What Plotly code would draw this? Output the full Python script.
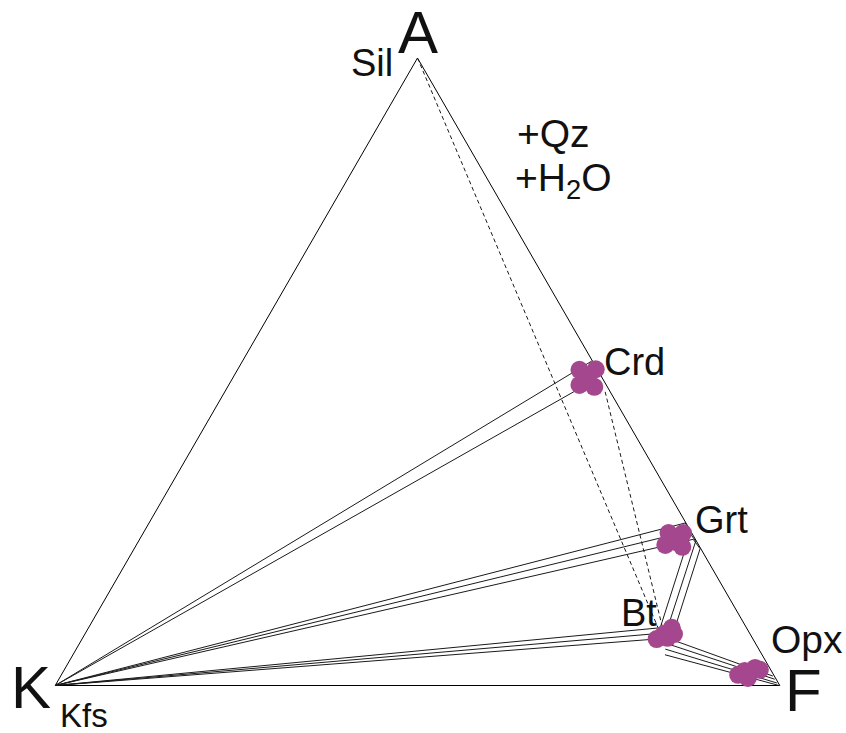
import plotly.graph_objects as go

# Compositions in % (A, K, F)
crd_A = [50.3, 50.4, 47.9, 47.6, 49.0]
crd_K = [2.5, 0.2, 3.7, 1.8, 2.0]
crd_F = [47.2, 49.4, 48.4, 50.6, 49.0]

grt_A = [24.3, 24.3, 22.4, 22.1, 22.9]
grt_K = [3.2, 1.2, 4.6, 2.4, 3.0]
grt_F = [72.5, 74.5, 73.0, 75.5, 74.1]

bt_A = [7.4, 8.2, 9.2, 8.2, 7.6]
bt_K = [13.3, 11.9, 10.3, 10.5, 11.7]
bt_F = [79.3, 79.9, 80.5, 81.3, 80.7]

opx_A = [1.7, 2.3, 2.8, 2.5, 1.2]
opx_K = [4.9, 3.7, 2.0, 1.5, 3.8]
opx_F = [93.4, 94.0, 95.2, 96.0, 95.0]

kfs = (0.0, 100.0, 0.0)
sil = (100.0, 0.0, 0.0)
crd_tie = [(51.7, 0.1, 48.2), (48.4, 1.8, 49.8)]
grt_tie_k = [(25.9, 0.1, 74.0), (24.6, 0.3, 75.1), (23.3, 0.3, 76.4)]
grt_tie_bt = [(24.4, 0.1, 75.5), (23.0, 0.1, 76.9), (21.8, 0.1, 78.1)]
bt_tie = [(9.2, 11.9, 78.9), (8.4, 11.5, 80.1), (7.6, 11.1, 81.3)]
bt_opx_tie = [(7.7, 12.0, 80.3), (6.8, 12.5, 80.7), (5.8, 12.9, 81.3), (4.9, 13.4, 81.7)]
opx_tie = [(1.5, 0.2, 98.3), (1.0, 0.2, 98.8), (0.4, 0.2, 99.4), (0.0, 0.1, 99.9)]
sil_bt = [sil, (9.2, 12.2, 78.6)]
crd_bt = [(46.8, 0.7, 52.5), (9.5, 11.5, 79.0)]

W, H = 846, 733
fig = go.Figure()

def line(pts, dash="solid", color="#1a1a1a", width=1):
    fig.add_trace(go.Scatterternary(
        a=[p[0] for p in pts], b=[p[1] for p in pts], c=[p[2] for p in pts],
        mode="lines", line=dict(color=color, width=width, dash=dash),
        hoverinfo="skip", showlegend=False, cliponaxis=False))

# dashed tie lines
line(sil_bt, dash="4px,3px")
line(crd_bt, dash="4px,3px")
# K - Crd
for p in crd_tie:
    line([kfs, p])
# K - Grt - Bt triangles
for gk, gb, b in zip(grt_tie_k, grt_tie_bt, bt_tie):
    line([kfs, gk, gb, b, kfs])
# Bt - Opx
for s, e in zip(bt_opx_tie, opx_tie):
    line([s, e])

purple = "#A4478E"
for A_, K_, F_ in [(crd_A, crd_K, crd_F), (grt_A, grt_K, grt_F),
                   (bt_A, bt_K, bt_F), (opx_A, opx_K, opx_F)]:
    fig.add_trace(go.Scatterternary(
        a=A_, b=K_, c=F_, mode="markers",
        marker=dict(color=purple, size=18, line=dict(width=0)),
        hoverinfo="skip", showlegend=False, cliponaxis=False))

ax = dict(showgrid=False, showticklabels=False, ticks="", showline=True,
          linecolor="black", linewidth=1, title=dict(text=""), layer="below traces")

font = "Liberation Sans, Arial, sans-serif"
labels = [
    ("A", 418, 33, 60), ("Sil", 372, 63, 38), ("K", 31, 687, 60),
    ("Kfs", 84, 715, 33), ("F", 803, 690, 60), ("Crd", 634, 362, 38),
    ("Grt", 721, 520, 38), ("Bt", 639, 613, 38), ("Opx", 807, 639, 39),
    ("+Qz", 553, 133, 39), ("+H<sub>2</sub>O", 563, 181, 39),
]
ann = []
for t, x, y, s in labels:
    ann.append(dict(text=t, x=x / W, y=1 - y / H, xref="paper", yref="paper",
                    xanchor="center", yanchor="middle", showarrow=False,
                    font=dict(family=font, size=s, color="#111")))

fig.update_layout(
    width=W, height=H, margin=dict(l=0, r=0, t=0, b=0),
    paper_bgcolor="white", plot_bgcolor="white",
    ternary=dict(sum=100, bgcolor="white",
                 domain=dict(x=[55 / W, 780 / W], y=[1 - 685.5 / H, 1 - 58 / H]),
                 aaxis=ax, baxis=ax, caxis=ax),
    annotations=ann, showlegend=False,
)
fig.write_html("out.html")
